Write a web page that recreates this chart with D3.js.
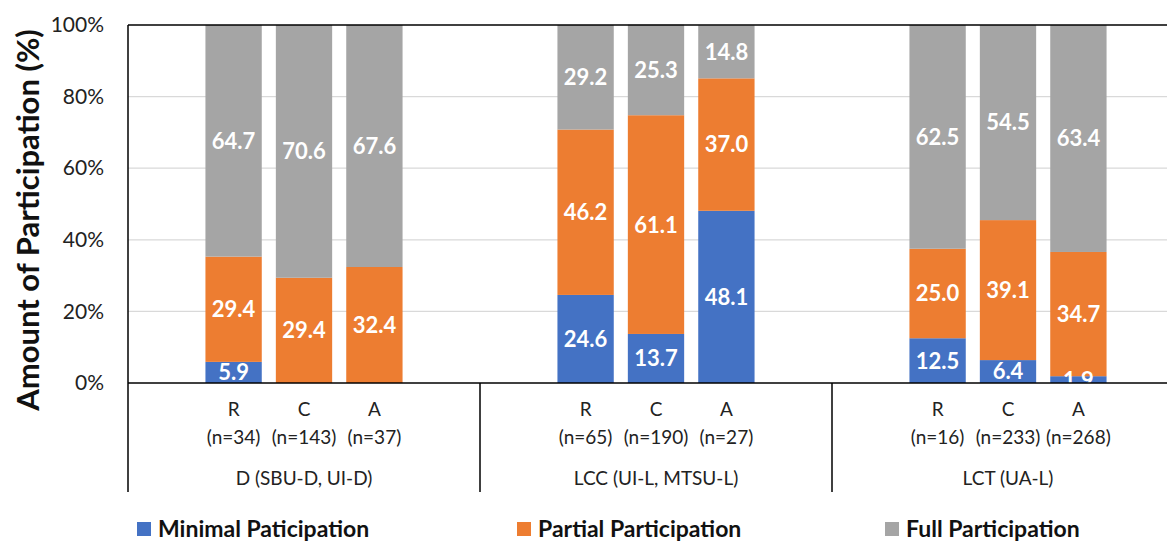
<!DOCTYPE html>
<html>
<head>
<meta charset="utf-8">
<script src="https://cdn.jsdelivr.net/npm/d3@7"></script>
<style>
  body { margin: 0; background: #fff; }
  svg { font-family: Lato, "Open Sans", sans-serif; }
</style>
</head>
<body>
<script>
// groups and bars (top level, small arrays)
var groups = ["D (SBU-D, UI-D)", "LCC (UI-L, MTSU-L)", "LCT (UA-L)"];
var bars = ["R", "C", "A"];
var counts = [["(n=34)", "(n=143)", "(n=37)"],
              ["(n=65)", "(n=190)", "(n=27)"],
              ["(n=16)", "(n=233)", "(n=268)"]];
var minimal = [5.9, 0, 0, 24.6, 13.7, 48.1, 12.5, 6.4, 1.9];
var partial = [29.4, 29.4, 32.4, 46.2, 61.1, 37.0, 25.0, 39.1, 34.7];
var full    = [64.7, 70.6, 67.6, 29.2, 25.3, 14.8, 62.5, 54.5, 63.4];
var seriesNames = ["Minimal Paticipation", "Partial Participation", "Full Participation"];
var colors = ["#4472C4", "#ED7D31", "#A5A5A5"];
var yTicks = [0, 20, 40, 60, 80, 100];

var W = 1167, H = 543;
var plotLeft = 128, plotTop = 25, plotBottom = 383;
var slotW = 70.4;

var svg = d3.select("body").append("svg")
    .attr("width", W).attr("height", H);

// 5 slots per group: blank, R, C, A, blank
var slots = [];
groups.forEach(function(g, gi) {
    for (var s = 0; s < 5; s++) slots.push(gi + "-" + s);
});

var x = d3.scaleBand().domain(slots)
    .range([plotLeft, plotLeft + slots.length * slotW])
    .paddingInner(0.2).paddingOuter(0.1);
var y = d3.scaleLinear().domain([0, 100]).range([plotBottom, plotTop]);

// data rows
var rows = [];
groups.forEach(function(g, gi) {
    bars.forEach(function(b, bi) {
        var i = gi * 3 + bi;
        rows.push({ key: gi + "-" + (bi + 1), g: gi, b: bi,
            minimal: minimal[i], partial: partial[i], full: full[i] });
    });
});

var stack = d3.stack().keys(["minimal", "partial", "full"]);
var layers = stack(rows);

// gridlines
svg.append("g").selectAll("line")
    .data(yTicks.filter(function(t) { return t > 0 && t < 100; }))
    .enter().append("line")
    .attr("x1", plotLeft).attr("x2", W)
    .attr("y1", function(d) { return y(d); })
    .attr("y2", function(d) { return y(d); })
    .attr("stroke", "#d9d9d9").attr("stroke-width", 1.3);

// bars
svg.append("g").selectAll("g")
    .data(layers).enter().append("g")
    .attr("fill", function(d, i) { return colors[i]; })
    .selectAll("rect")
    .data(function(d) { return d; })
    .enter().append("rect")
    .attr("x", function(d) { return x(d.data.key); })
    .attr("width", x.bandwidth())
    .attr("y", function(d) { return y(d[1]); })
    .attr("height", function(d) { return y(d[0]) - y(d[1]); });

// value labels (drawn after every bar so small segments stay visible)
svg.append("g").selectAll("g")
    .data(layers).enter().append("g")
    .selectAll("text")
    .data(function(d) { return d.filter(function(p) { return p[1] - p[0] > 0; }); })
    .enter().append("text")
    .attr("x", function(d) { return x(d.data.key) + x.bandwidth() / 2; })
    .attr("y", function(d) { return (y(d[0]) + y(d[1])) / 2; })
    .attr("dy", "0.36em")
    .attr("text-anchor", "middle")
    .attr("fill", "#fff")
    .attr("font-weight", "bold")
    .attr("font-size", 22)
    .text(function(d) { return (d[1] - d[0]).toFixed(1); });

// top frame line
svg.append("line")
    .attr("x1", plotLeft).attr("x2", W)
    .attr("y1", plotTop).attr("y2", plotTop)
    .attr("stroke", "#000").attr("stroke-width", 1.5);

// y axis
var yAxis = d3.axisLeft(y).tickValues(yTicks)
    .tickSize(0).tickPadding(24)
    .tickFormat(function(d) { return d + "%"; });
var yg = svg.append("g").attr("transform", "translate(" + plotLeft + ",0)").call(yAxis);
yg.select(".domain").remove();
yg.selectAll("text").attr("font-size", 21).attr("fill", "#222")
    .attr("font-family", "Lato, sans-serif");

// axis lines
svg.append("line")
    .attr("x1", plotLeft).attr("x2", W)
    .attr("y1", plotBottom).attr("y2", plotBottom)
    .attr("stroke", "#000").attr("stroke-width", 1.5);
var divX = [0, 1, 2].map(function(gi) { return x(gi + "-0") - x.step() * x.paddingOuter(); });
svg.append("g").selectAll("line")
    .data(divX).enter().append("line")
    .attr("x1", function(d) { return d; }).attr("x2", function(d) { return d; })
    .attr("y1", function(d, i) { return i === 0 ? plotTop : plotBottom; })
    .attr("y2", 492)
    .attr("stroke", "#000").attr("stroke-width", 1.5);

// category labels
var catG = svg.append("g").attr("font-size", 19).attr("fill", "#222").attr("text-anchor", "middle");
rows.forEach(function(r) {
    var cx = x(r.key) + x.bandwidth() / 2;
    catG.append("text").attr("x", cx).attr("y", 416).text(bars[r.b]);
    catG.append("text").attr("x", cx).attr("y", 444).text(counts[r.g][r.b]);
});
groups.forEach(function(g, gi) {
    var cx = x(gi + "-2") + x.bandwidth() / 2;
    catG.append("text").attr("x", cx).attr("y", 485).text(g);
});

// y title
svg.append("text")
    .attr("transform", "translate(39," + 220 + ") rotate(-90)")
    .attr("text-anchor", "middle")
    .attr("font-size", 31).attr("font-weight", "bold").attr("fill", "#111")
    .text("Amount of Participation (%)");

// legend
var legX = [137, 517, 885];
var leg = svg.append("g").selectAll("g")
    .data(seriesNames).enter().append("g")
    .attr("transform", function(d, i) { return "translate(" + legX[i] + ",522)"; });
leg.append("rect").attr("width", 14).attr("height", 14)
    .attr("fill", function(d, i) { return colors[i]; });
leg.append("text").attr("x", 21).attr("y", 15)
    .attr("font-size", 23).attr("font-weight", "bold").attr("fill", "#111")
    .text(function(d) { return d; });
</script>
</body>
</html>
